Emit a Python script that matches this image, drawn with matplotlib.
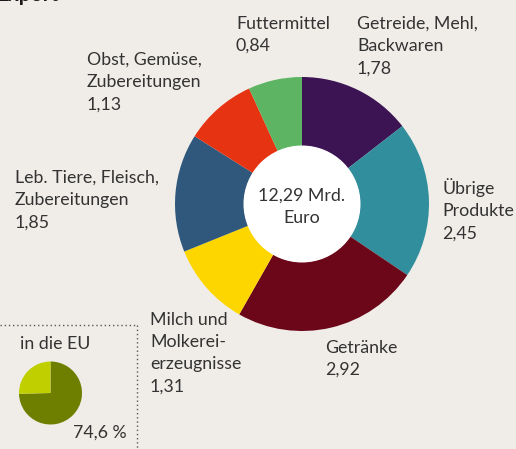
import matplotlib
matplotlib.use("Agg")
import matplotlib.pyplot as plt
from matplotlib.patches import Circle

# data
categories = ["Getreide, Mehl,\nBackwaren", "Übrige\nProdukte", "Getränke",
              "Milch und\nMolkerei-\nerzeugnisse", "Leb. Tiere, Fleisch,\nZubereitungen",
              "Obst, Gemüse,\nZubereitungen", "Futtermittel"]
values = [1.78, 2.45, 2.92, 1.31, 1.85, 1.13, 0.84]
value_labels = ["1,78", "2,45", "2,92", "1,31", "1,85", "1,13", "0,84"]
colors = ["#3c1454", "#318e9c", "#6c0719", "#fdd600", "#30587c", "#e63312", "#5db462"]
total_label = "12,29 Mrd.\nEuro"

eu_values = [74.6, 25.4]
eu_colors = ["#6e7f00", "#bfcf00"]
eu_label = "74,6 %"

W, H = 516, 449
BG = "#f0ede8"
TXT = "#333333"
plt.rcParams['font.family'] = ['Lato', 'DejaVu Sans']

fig = plt.figure(figsize=(W / 100, H / 100), dpi=100, facecolor=BG)
ax = fig.add_axes([0, 0, 1, 1])
ax.set_facecolor(BG)

def Y(y):
    return H - y

R = 127
CX, CY = 302, Y(204)
ax.pie(values, colors=colors, startangle=90, counterclock=False, radius=R,
       center=(CX, CY), wedgeprops=dict(width=R - 58, linewidth=0))
ax.add_patch(Circle((CX, CY), 58.5, facecolor="white", edgecolor="none", zorder=3))
ax.pie(eu_values, colors=eu_colors, startangle=90, counterclock=False, radius=31.5,
       center=(50.5, Y(393)), wedgeprops=dict(linewidth=0))
ax.set_xlim(0, W)
ax.set_ylim(0, H)
ax.set_aspect('equal')
ax.axis('off')

fs = 12.8
ls = 1.47
label_pos = [(357, 16), (442, 178), (325, 340), (150, 312), (15, 170), (87, 52), (236, 16)]
for cat, val, (x, y) in zip(categories, value_labels, label_pos):
    ax.text(x, Y(y), cat + "\n" + val, ha='left', va='top', fontsize=fs,
            color=TXT, linespacing=ls)

ax.text(CX, Y(207), total_label, ha='center', va='center', fontsize=fs,
        color=TXT, linespacing=ls, zorder=4)

ax.text(20, Y(344), "in die EU", ha='left', va='center', fontsize=fs, color=TXT)
ax.text(73, Y(433), eu_label, ha='left', va='center', fontsize=fs, color=TXT)

ax.text(-4, Y(5), "Export", ha='left', va='bottom', fontsize=15, fontweight='bold', color="#1a1a1a")

# dotted box
ax.plot([0, 137], [Y(325), Y(325)], linestyle=(0, (1, 2)), color="#555555", linewidth=1)
ax.plot([137, 137], [Y(325), 0], linestyle=(0, (1, 2)), color="#555555", linewidth=1)

fig.savefig("out.png", dpi=100, facecolor=BG)
